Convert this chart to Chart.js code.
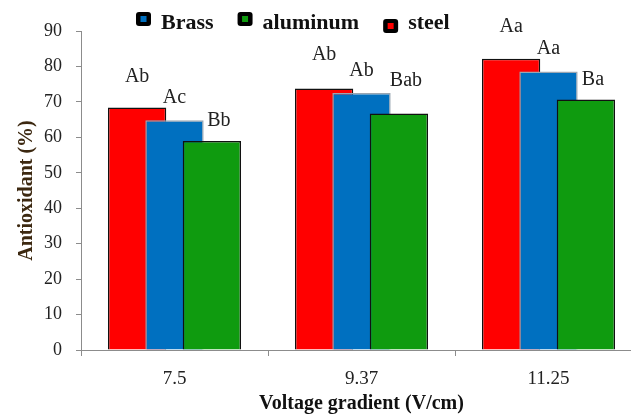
<!DOCTYPE html>
<html>
<head>
<meta charset="utf-8">
<script src="https://cdn.jsdelivr.net/npm/chart.js@4.4.1/dist/chart.umd.min.js"></script>
<style>
  html, body { margin: 0; padding: 0; background: #fff; overflow: hidden; }
  canvas { display: block; }
</style>
</head>
<body>
<canvas id="chart" width="650" height="419"></canvas>
<script>
// values
const gradients = ['7.5', '9.37', '11.25'];
const yTicks = [0, 10, 20, 30, 40, 50, 60, 70, 80, 90];

const steel = [68.4, 73.8, 82.2];
const brass = [64.8, 72.5, 78.6];
const aluminum = [59.0, 66.7, 70.7];

// significance letters, sitting on top of the (hidden) error bars
const steelLetters = ['Ab', 'Ab', 'Aa'];
const brassLetters = ['Ac', 'Ab', 'Aa'];
const aluminumLetters = ['Bb', 'Bab', 'Ba'];
const steelErr = [7.1, 7.9, 7.4];
const brassErr = [4.8, 4.7, 4.8];
const aluminumErr = [4.1, 7.7, 4.0];

const SERIF = '"Liberation Serif", "Times New Roman", serif';

// red behind, green on top (chart.js would draw the first dataset on top)
const drawOrder = {
  id: 'drawOrder',
  beforeDatasetsDraw(chart) {
    chart.getSortedVisibleDatasetMetas().forEach((meta) => meta.controller.draw());
    return false;
  },
};

const letterLabels = {
  id: 'letterLabels',
  afterDraw(chart) {
    const ctx = chart.ctx;
    const y = chart.scales.y;
    const shift = [0, 0, 7];
    ctx.save();
    ctx.font = '20px ' + SERIF;
    ctx.fillStyle = '#222';
    ctx.textAlign = 'center';
    ctx.textBaseline = 'alphabetic';
    chart.data.datasets.forEach((ds, i) => {
      const meta = chart.getDatasetMeta(i);
      meta.data.forEach((bar, j) => {
        const top = y.getPixelForValue(ds.data[j] + ds.err[j]);
        ctx.fillText(ds.letters[j], bar.x + shift[i], top);
      });
    });
    ctx.restore();
  },
};

// legend drawn by hand so it can overlap the top of the plot like the original
const topLegend = {
  id: 'topLegend',
  afterDraw(chart) {
    const ctx = chart.ctx;
    const order = [1, 2, 0];
    let x = 136;
    ctx.save();
    ctx.font = 'bold 22px ' + SERIF;
    ctx.textBaseline = 'alphabetic';
    ctx.textAlign = 'left';
    order.forEach((i, k) => {
      const ds = chart.data.datasets[i];
      const my = k === 2 ? 19 : 12;
      ctx.fillStyle = '#000';
      ctx.beginPath();
      ctx.roundRect(x, my, 15, 14, 3);
      ctx.fill();
      ctx.fillStyle = ds.backgroundColor;
      ctx.fillRect(x + 4.5, my + 4, 6, 6);
      ctx.fillStyle = '#111';
      ctx.fillText(ds.label, x + 25, 29);
      x += 25 + ctx.measureText(ds.label).width + 24;
    });
    ctx.restore();
  },
};

new Chart(document.getElementById('chart'), {
  type: 'bar',
  data: {
    labels: gradients,
    datasets: [
      {
        label: 'steel',
        data: steel,
        letters: steelLetters,
        err: steelErr,
        backgroundColor: '#ff0000',
        borderColor: '#111',
        borderWidth: 1.5,
      },
      {
        label: 'Brass',
        data: brass,
        letters: brassLetters,
        err: brassErr,
        backgroundColor: '#0070c0',
        borderColor: '#9aa6b2',
        borderWidth: 1.5,
      },
      {
        label: 'aluminum',
        data: aluminum,
        letters: aluminumLetters,
        err: aluminumErr,
        backgroundColor: '#0f9b0f',
        borderColor: '#111',
        borderWidth: 1.5,
      },
    ],
  },
  options: {
    responsive: false,
    animation: false,
    devicePixelRatio: 1,
    categoryPercentage: 0.6,
    barPercentage: 1.56,
    layout: { padding: { top: 31, right: 8, bottom: 0, left: 0 } },
    plugins: {
      legend: { display: false },
      tooltip: { enabled: false },
    },
    scales: {
      x: {
        afterFit: (scale) => { scale.height = 69; },
        grid: { drawOnChartArea: false, tickLength: 6, color: '#8c8c8c', offset: true },
        border: { color: '#8c8c8c', width: 1 },
        ticks: { color: '#222', padding: 12, font: { family: SERIF, size: 19 } },
        title: {
          display: true,
          text: 'Voltage gradient (V/cm)',
          color: '#111',
          padding: { top: 0, bottom: 3 },
          font: { family: SERIF, size: 20, weight: 'bold' },
        },
      },
      y: {
        min: 0,
        max: 90,
        afterFit: (scale) => { scale.width = 81; },
        afterBuildTicks: (scale) => { scale.ticks = yTicks.map((v) => ({ value: v })); },
        grid: { drawOnChartArea: false, tickLength: 5, color: '#8c8c8c' },
        border: { color: '#8c8c8c', width: 1 },
        ticks: { color: '#222', padding: 14, font: { family: SERIF, size: 18 } },
        title: {
          display: true,
          text: 'Antioxidant (%)',
          color: '#3c2810',
          padding: { top: 15, bottom: 0 },
          font: { family: SERIF, size: 20, weight: 'bold' },
        },
      },
    },
  },
  plugins: [drawOrder, letterLabels, topLegend],
});
</script>
</body>
</html>
